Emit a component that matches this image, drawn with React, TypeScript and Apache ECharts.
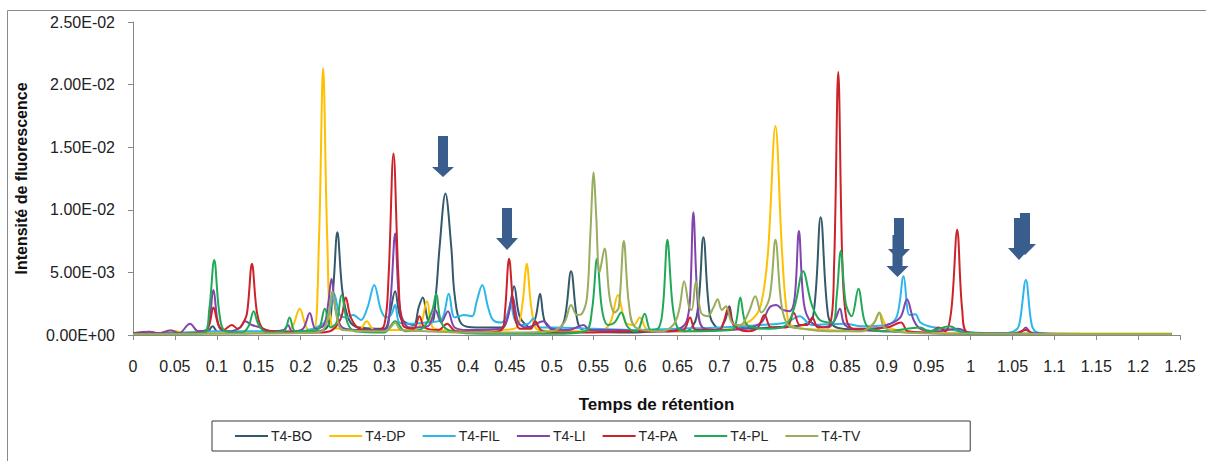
import React, { useEffect, useRef } from "react";
import * as echarts from "echarts";

// Retention time (x) and fluorescence intensity in units of 1e-3 (y)
const UNIT = 1e-3;
const SERIES_NAMES = ["T4-BO", "T4-DP", "T4-FIL", "T4-LI", "T4-PA", "T4-PL", "T4-TV"];
const COLORS = ["#33596b", "#ffc000", "#2db6ea", "#8244ad", "#cc2229", "#21a957", "#98ad5e"];

const BO: number[][] = [[0,0.15],[0.05,0.15],[0.088,0.2],[0.095,0.7],[0.102,0.2],[0.2,0.2],[0.23,0.5],[0.238,3],[0.244,8.2],[0.25,3.5],[0.258,1.2],[0.27,0.6],[0.3,0.5],[0.306,1.5],[0.313,3.5],[0.32,1.3],[0.335,0.8],[0.341,2.2],[0.346,3.0],[0.352,1.2],[0.357,1.0],[0.362,3.5],[0.366,7.0],[0.373,11.3],[0.38,7.0],[0.384,3.2],[0.392,0.9],[0.41,0.6],[0.44,0.6],[0.448,1.6],[0.455,3.9],[0.462,1.4],[0.475,0.6],[0.481,1.5],[0.486,3.3],[0.492,1.0],[0.505,0.3],[0.515,1.2],[0.523,5.1],[0.531,1.0],[0.54,0.3],[0.6,0.2],[0.63,0.3],[0.66,0.3],[0.673,1.5],[0.681,7.8],[0.689,1.5],[0.7,0.5],[0.707,1.2],[0.712,2.3],[0.718,0.8],[0.74,0.5],[0.76,0.6],[0.8,0.8],[0.812,1.5],[0.821,9.4],[0.83,1.5],[0.84,0.6],[0.87,0.4],[0.9,0.3],[0.95,0.15],[1.0,0.08],[1.24,0.08]];
const DP: number[][] = [[0,0.1],[0.02,0.25],[0.03,0.15],[0.045,0.35],[0.06,0.2],[0.08,0.3],[0.1,0.15],[0.14,0.2],[0.18,0.25],[0.19,0.6],[0.199,2.1],[0.208,0.5],[0.216,0.4],[0.222,7.5],[0.227,21.3],[0.232,7.5],[0.238,0.6],[0.25,0.5],[0.27,0.4],[0.279,1.1],[0.288,0.4],[0.33,0.4],[0.343,0.8],[0.351,2.7],[0.36,0.5],[0.4,0.3],[0.44,0.4],[0.458,0.6],[0.465,2.5],[0.47,5.7],[0.476,2.0],[0.484,0.4],[0.52,0.3],[0.56,0.4],[0.57,1.0],[0.579,3.2],[0.588,1.0],[0.598,0.8],[0.605,1.4],[0.615,0.4],[0.66,0.3],[0.7,0.4],[0.72,0.6],[0.74,1.3],[0.75,2.5],[0.758,6.5],[0.767,16.7],[0.775,6.5],[0.782,1.2],[0.79,0.6],[0.83,0.4],[0.87,0.3],[0.883,0.8],[0.891,1.75],[0.9,0.7],[0.92,0.3],[0.95,0.2],[1.0,0.15],[1.1,0.12],[1.24,0.12]];
const FIL: number[][] = [[0,0.1],[0.05,0.15],[0.1,0.3],[0.15,0.3],[0.2,0.3],[0.225,0.8],[0.233,1.5],[0.24,3.3],[0.247,1.6],[0.255,1.4],[0.263,1.6],[0.272,1.2],[0.28,2.2],[0.288,4.0],[0.296,2.0],[0.302,1.4],[0.308,1.6],[0.313,2.4],[0.318,1.0],[0.33,0.9],[0.35,1.0],[0.368,1.2],[0.377,3.3],[0.384,1.4],[0.395,1.6],[0.405,1.5],[0.41,2.6],[0.417,4.0],[0.424,2.2],[0.43,1.2],[0.44,1.0],[0.446,1.5],[0.451,2.5],[0.456,1.2],[0.465,0.8],[0.472,0.9],[0.478,1.3],[0.485,0.6],[0.5,0.6],[0.55,0.5],[0.6,0.4],[0.65,0.5],[0.7,0.6],[0.75,0.8],[0.78,1.0],[0.796,1.5],[0.81,0.8],[0.85,0.9],[0.87,0.7],[0.9,0.8],[0.912,1.5],[0.92,4.7],[0.927,1.6],[0.934,1.65],[0.94,1.0],[0.95,0.7],[0.97,0.5],[1.0,0.2],[1.04,0.15],[1.052,0.3],[1.058,0.8],[1.066,4.4],[1.073,0.8],[1.08,0.2],[1.1,0.08],[1.24,0.08]];
const LI: number[][] = [[0,0.15],[0.02,0.25],[0.03,0.15],[0.045,0.35],[0.055,0.15],[0.068,0.9],[0.078,0.3],[0.089,0.5],[0.096,3.6],[0.103,0.6],[0.115,0.3],[0.128,0.6],[0.134,1.1],[0.142,0.8],[0.152,0.6],[0.165,0.3],[0.18,0.4],[0.185,0.8],[0.19,0.3],[0.203,0.5],[0.211,1.75],[0.218,0.5],[0.228,0.8],[0.233,2.5],[0.237,4.5],[0.242,2.0],[0.25,0.6],[0.27,0.4],[0.3,0.4],[0.307,2.5],[0.313,8.1],[0.319,2.0],[0.33,0.6],[0.352,0.7],[0.361,2.0],[0.368,1.0],[0.376,1.9],[0.384,0.6],[0.4,0.4],[0.44,0.5],[0.447,1.3],[0.453,3.1],[0.46,1.0],[0.47,0.6],[0.49,1.1],[0.5,0.5],[0.52,0.4],[0.538,0.8],[0.545,0.4],[0.58,0.4],[0.6,0.3],[0.64,0.3],[0.655,0.6],[0.661,1.1],[0.665,2.8],[0.669,9.8],[0.674,2.8],[0.68,0.6],[0.7,0.4],[0.73,0.5],[0.75,1.0],[0.76,2.2],[0.768,2.4],[0.776,2.0],[0.784,1.9],[0.79,3.0],[0.795,8.3],[0.801,2.5],[0.81,1.0],[0.83,0.6],[0.838,1.2],[0.844,2.1],[0.85,0.8],[0.87,0.4],[0.89,0.5],[0.9,0.8],[0.908,1.0],[0.917,1.5],[0.924,2.85],[0.932,1.2],[0.94,0.5],[0.96,0.3],[0.985,0.5],[1.0,0.15],[1.05,0.1],[1.06,0.2],[1.066,0.6],[1.072,0.2],[1.1,0.08],[1.24,0.08]];
const PA: number[][] = [[0,0.1],[0.05,0.1],[0.085,0.2],[0.091,0.8],[0.096,2.2],[0.102,0.8],[0.108,0.4],[0.118,0.8],[0.125,0.5],[0.13,0.8],[0.136,1.7],[0.142,5.7],[0.148,1.8],[0.155,0.5],[0.17,0.3],[0.2,0.2],[0.22,0.2],[0.235,0.3],[0.248,1.3],[0.254,3.0],[0.26,1.4],[0.27,0.5],[0.29,0.3],[0.3,0.8],[0.305,4.5],[0.311,14.5],[0.317,4.5],[0.322,0.8],[0.335,0.5],[0.342,1.5],[0.348,0.6],[0.365,0.4],[0.375,0.9],[0.385,0.3],[0.42,0.2],[0.44,0.4],[0.444,1.8],[0.449,6.1],[0.455,1.8],[0.462,0.5],[0.475,0.5],[0.48,1.1],[0.487,0.4],[0.5,0.2],[0.55,0.2],[0.6,0.3],[0.63,0.3],[0.657,0.4],[0.665,1.4],[0.672,0.4],[0.7,0.4],[0.705,1.0],[0.711,2.2],[0.717,0.8],[0.735,0.3],[0.746,0.6],[0.754,1.6],[0.762,0.6],[0.78,0.6],[0.789,1.75],[0.796,0.8],[0.805,0.8],[0.811,1.4],[0.818,0.6],[0.832,0.8],[0.837,5.5],[0.842,21.0],[0.847,5.5],[0.852,1.2],[0.86,0.5],[0.9,0.6],[0.917,1.0],[0.925,0.3],[0.95,0.2],[0.962,0.6],[0.97,0.3],[0.977,2.0],[0.984,8.4],[0.99,2.0],[0.997,0.2],[1.05,0.1],[1.066,0.4],[1.075,0.1],[1.24,0.08]];
const PL: number[][] = [[0,0.05],[0.05,0.1],[0.085,0.2],[0.091,2.0],[0.097,6.0],[0.103,1.8],[0.11,0.3],[0.13,0.2],[0.138,0.7],[0.144,1.9],[0.15,0.8],[0.16,0.2],[0.18,0.3],[0.187,1.4],[0.194,0.3],[0.22,0.4],[0.229,2.1],[0.236,0.6],[0.243,1.0],[0.249,3.2],[0.256,1.0],[0.265,0.3],[0.3,0.2],[0.313,1.1],[0.325,0.3],[0.345,0.5],[0.357,1.9],[0.362,3.3],[0.368,1.0],[0.38,0.3],[0.42,0.1],[0.5,0.1],[0.54,0.3],[0.548,2],[0.554,6.1],[0.56,2],[0.567,0.8],[0.575,1.0],[0.583,1.8],[0.59,0.7],[0.6,0.3],[0.604,0.5],[0.611,1.7],[0.618,0.4],[0.628,0.6],[0.633,2.5],[0.638,7.6],[0.644,2.5],[0.65,0.6],[0.66,0.3],[0.715,0.4],[0.72,1.0],[0.725,3.0],[0.731,1.0],[0.74,0.6],[0.76,0.5],[0.78,0.8],[0.79,2.3],[0.8,5.1],[0.81,2.5],[0.82,1.2],[0.835,1.0],[0.84,3],[0.845,6.7],[0.851,2.5],[0.858,1.5],[0.866,3.7],[0.873,1.2],[0.88,0.5],[0.9,0.3],[0.94,0.6],[0.95,0.3],[0.975,0.7],[0.99,0.2],[1.05,0.1],[1.24,0.08]];
const TV: number[][] = [[0,0.05],[0.1,0.1],[0.2,0.15],[0.225,0.3],[0.233,1.5],[0.238,3.5],[0.244,1.2],[0.25,0.4],[0.3,0.3],[0.306,0.5],[0.313,1.0],[0.32,0.4],[0.35,0.3],[0.4,0.2],[0.45,0.2],[0.5,0.3],[0.515,1.0],[0.523,2.4],[0.53,1.6],[0.536,1.7],[0.542,3],[0.546,8],[0.55,13.0],[0.553,9.5],[0.557,5.0],[0.563,6.9],[0.569,3.0],[0.575,1.8],[0.58,2.2],[0.586,7.5],[0.592,2.5],[0.6,0.6],[0.63,0.3],[0.645,0.8],[0.652,2.0],[0.658,4.3],[0.664,2.2],[0.667,2.0],[0.672,4.3],[0.678,1.8],[0.686,1.5],[0.693,2.2],[0.698,2.85],[0.703,2.0],[0.708,2.3],[0.715,1.0],[0.725,0.8],[0.735,1.8],[0.743,3.1],[0.75,1.8],[0.76,3],[0.767,7.6],[0.774,2.5],[0.782,0.8],[0.8,0.5],[0.83,0.3],[0.87,0.3],[0.885,1.0],[0.891,1.8],[0.897,0.6],[0.92,0.2],[1.0,0.1],[1.24,0.08]];
const SERIES_DATA = [BO, DP, FIL, LI, PA, PL, TV];

const X_MIN = 0, X_MAX = 1.25, X_STEP = 0.05;
const Y_MIN = 0, Y_MAX = 0.025, Y_STEP = 0.005;

// Annotation arrows: [centerX, shaftTop, headTop, tip] in pixels
const ARROWS = [
  [443, 136, 167, 177],
  [507, 208, 238, 250],
  [899, 218, 249, 260],
  [897.5, 235, 266, 277],
  [1025, 213, 244, 255],
  [1019, 218, 248, 260],
];

function sci(v: number): string {
  const s = v.toExponential(2).toUpperCase();
  const [m, e] = s.split("E");
  const n = parseInt(e, 10);
  const sign = n < 0 ? "-" : "+";
  const abs = Math.abs(n);
  return m + "E" + sign + (abs < 10 ? "0" + abs : String(abs));
}

export default function App() {
  const ref = useRef<HTMLDivElement>(null);
  useEffect(() => {
    if (!ref.current) return;
    const chart = echarts.init(ref.current, null, { renderer: "svg" });
    const font = "Liberation Sans";
    const arrowColor = "#395d8c";
    const graphics: any[] = [
      {
        type: "rect",
        shape: { x: 7.5, y: 10.5, width: 1250, height: 500 },
        style: { fill: "none", stroke: "#8a8a8a", lineWidth: 1 },
        silent: true,
        z: 0,
      },
    ];
    ARROWS.forEach(([cx, top, ht, tip]) => {
      graphics.push({
        type: "polygon",
        shape: {
          points: [
            [cx - 5, top], [cx + 5, top], [cx + 5, ht], [cx + 11, ht],
            [cx, tip], [cx - 11, ht], [cx - 5, ht],
          ],
        },
        style: { fill: arrowColor, stroke: "none" },
        z: 100,
      });
    });
    chart.setOption({
      animation: false,
      backgroundColor: "#ffffff",
      color: COLORS,
      textStyle: { fontFamily: font },
      grid: { left: 133, right: 26, top: 22, bottom: 126, containLabel: false },
      legend: {
        data: SERIES_NAMES,
        left: 212,
        top: 421,
        orient: "horizontal",
        icon: "rect",
        itemWidth: 33,
        itemHeight: 2,
        itemGap: 17,
        padding: [8, 110, 8, 23],
        borderColor: "#3a3a3a",
        borderWidth: 1,
        textStyle: { fontFamily: font, fontSize: 14, color: "#262626", padding: [0, 0, 0, -2] },
      },
      xAxis: {
        type: "value",
        min: X_MIN,
        max: X_MAX,
        interval: X_STEP,
        name: "Temps de rétention",
        nameLocation: "middle",
        nameGap: 61,
        nameTextStyle: { fontFamily: font, fontWeight: "bold", fontSize: 17, color: "#111" },
        axisLine: { lineStyle: { color: "#888888", width: 1 } },
        axisTick: { show: true, length: 5, lineStyle: { color: "#888888" } },
        axisLabel: { margin: 23, fontSize: 16, color: "#222", fontFamily: font, showMinLabel: true, showMaxLabel: true, hideOverlap: false },
        splitLine: { show: false },
      },
      yAxis: {
        type: "value",
        min: Y_MIN,
        max: Y_MAX,
        interval: Y_STEP,
        name: "Intensité de fluorescence",
        nameLocation: "middle",
        nameRotate: 90,
        nameGap: 104,
        nameTextStyle: { fontFamily: font, fontWeight: "bold", fontSize: 16, color: "#111" },
        axisLine: { show: true, lineStyle: { color: "#888888", width: 1 } },
        axisTick: { show: true, length: 5, lineStyle: { color: "#888888" } },
        axisLabel: { margin: 18, fontSize: 16, color: "#222", fontFamily: font, formatter: (v: number) => sci(v) },
        splitLine: { show: false },
      },
      graphic: graphics,
      series: SERIES_NAMES.map((name, i) => ({
        name,
        type: "line",
        data: SERIES_DATA[i].map(([t, v]) => [t, v * UNIT]),
        showSymbol: false,
        smooth: 0.35,
        lineStyle: { width: 2, color: COLORS[i] },
        itemStyle: { color: COLORS[i] },
        emphasis: { disabled: true },
        z: 2 + i,
      })),
    });
    return () => chart.dispose();
  }, []);
  return (
    <div
      ref={ref}
      style={{ position: "fixed", left: 0, top: 0, width: 1206, height: 461, background: "#fff" }}
    />
  );
}
